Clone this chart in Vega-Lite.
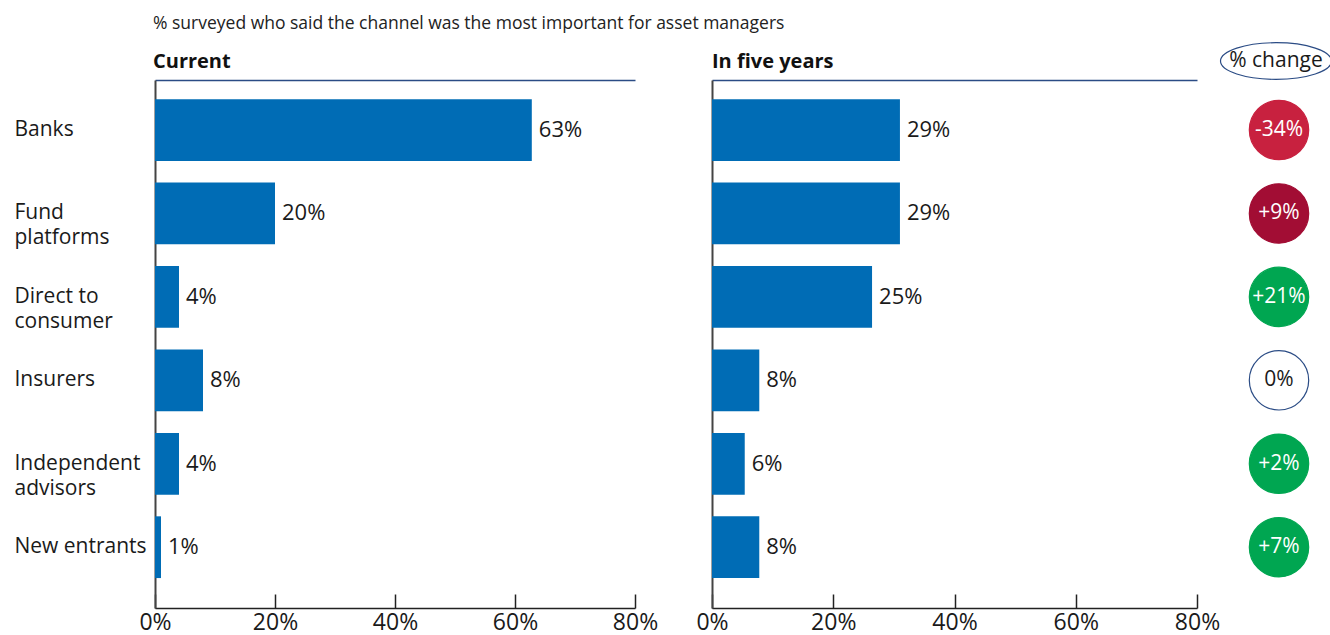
{
  "$schema": "https://vega.github.io/schema/vega-lite/v6.json",
  "background": "white",
  "padding": {"left": 14, "top": 14, "right": 0, "bottom": 0},
  "bounds": "flush",
  "spacing": 77,
  "config": {
    "font": "Open Sans",
    "view": {"stroke": null},
    "axis": {"labelFont": "Open Sans", "labelColor": "#1a1a1a", "grid": false, "title": null},
    "title": {"font": "Open Sans", "subtitleFont": "Open Sans"}
  },
  "datasets": {
    "rows": [
      {"channel": "Banks", "current": 62.8, "currentLabel": "63%", "future": 31.0, "futureLabel": "29%", "changeLabel": "-34%", "change": -34},
      {"channel": "Fund platforms", "current": 20, "currentLabel": "20%", "future": 31.0, "futureLabel": "29%", "changeLabel": "+9%", "change": 9},
      {"channel": "Direct to consumer", "current": 4, "currentLabel": "4%", "future": 26.4, "futureLabel": "25%", "changeLabel": "+21%", "change": 21},
      {"channel": "Insurers", "current": 8, "currentLabel": "8%", "future": 7.8, "futureLabel": "8%", "changeLabel": "0%", "change": 0},
      {"channel": "Independent advisors", "current": 4, "currentLabel": "4%", "future": 5.4, "futureLabel": "6%", "changeLabel": "+2%", "change": 2},
      {"channel": "New entrants", "current": 1, "currentLabel": "1%", "future": 7.8, "futureLabel": "8%", "changeLabel": "+7%", "change": 7}
    ]
  },
  "hconcat": [
    {
      "width": 480,
      "height": 528,
      "data": {"name": "rows"},
      "title": {
        "text": "% surveyed who said the channel was the most important for asset managers",
        "subtitle": "Current",
        "anchor": "start",
        "frame": "group",
        "fontSize": 17.5,
        "fontWeight": "normal",
        "color": "#222222",
        "subtitleFontSize": 20,
        "subtitleFontWeight": "bold",
        "subtitleColor": "#111111",
        "subtitlePadding": 20,
        "offset": 8,
        "dx": -2
      },
      "encoding": {
        "y": {
          "field": "channel",
          "type": "nominal",
          "scale": {
            "type": "band",
            "domain": ["Banks", "Fund platforms", "Direct to consumer", "Insurers", "Independent advisors", "New entrants"],
            "paddingInner": 0.26,
            "paddingOuter": 0.294,
            "align": 0.39
          },
          "axis": {
            "orient": "left",
            "domain": true,
            "domainColor": "#444444",
            "domainWidth": 2,
            "ticks": false,
            "labelAlign": "left",
            "labelBaseline": "middle",
            "labelPadding": 141,
            "labelFontSize": 21,
            "labelLineHeight": 25,
            "labelLimit": 200,
            "labelExpr": "datum.label == 'Fund platforms' ? ['Fund', 'platforms'] : datum.label == 'Direct to consumer' ? ['Direct to', 'consumer'] : datum.label == 'Independent advisors' ? ['Independent', 'advisors'] : datum.label"
          }
        }
      },
      "layer": [
        {
          "mark": {"type": "bar", "color": "#006cb5"},
          "encoding": {
            "x": {
              "field": "current",
              "type": "quantitative",
              "scale": {"domain": [0, 80], "nice": false},
              "axis": {
                "orient": "bottom",
                "values": [0, 20, 40, 60, 80],
                "labelExpr": "datum.value + '%'",
                "labelFontSize": 23,
                "labelFlush": false,
                "labelOverlap": false,
                "tickSize": -14,
                "tickWidth": 1.5,
                "tickColor": "#222222",
                "domainColor": "#222222",
                "domainWidth": 1.5,
                "labelPadding": 17
              }
            }
          }
        },
        {
          "mark": {"type": "text", "align": "left", "baseline": "middle", "dx": 7, "fontSize": 22, "color": "#1a1a1a"},
          "encoding": {
            "x": {
              "field": "current",
              "type": "quantitative",
              "axis": {"orient": "top", "labels": false, "ticks": false, "domain": true, "domainColor": "#2b4c85", "domainWidth": 1.5}
            },
            "text": {"field": "currentLabel"}
          }
        }
      ],
      "resolve": {"axis": {"x": "independent"}}
    },
    {
      "width": 485,
      "height": 528,
      "data": {"name": "rows"},
      "title": {
        "text": " ",
        "subtitle": "In five years",
        "anchor": "start",
        "frame": "group",
        "fontSize": 17.5,
        "fontWeight": "normal",
        "color": "#222222",
        "subtitleFontSize": 20,
        "subtitleFontWeight": "bold",
        "subtitleColor": "#111111",
        "subtitlePadding": 20,
        "offset": 8
      },
      "encoding": {
        "y": {
          "field": "channel",
          "type": "nominal",
          "scale": {
            "type": "band",
            "domain": ["Banks", "Fund platforms", "Direct to consumer", "Insurers", "Independent advisors", "New entrants"],
            "paddingInner": 0.26,
            "paddingOuter": 0.294,
            "align": 0.39
          },
          "axis": {"orient": "left", "domain": true, "domainColor": "#444444", "domainWidth": 2, "ticks": false, "labels": false}
        }
      },
      "layer": [
        {
          "mark": {"type": "bar", "color": "#006cb5"},
          "encoding": {
            "x": {
              "field": "future",
              "type": "quantitative",
              "scale": {"domain": [0, 80], "nice": false},
              "axis": {
                "orient": "bottom",
                "values": [0, 20, 40, 60, 80],
                "labelExpr": "datum.value + '%'",
                "labelFontSize": 23,
                "labelFlush": false,
                "labelOverlap": false,
                "tickSize": -14,
                "tickWidth": 1.5,
                "tickColor": "#222222",
                "domainColor": "#222222",
                "domainWidth": 1.5,
                "labelPadding": 17
              }
            }
          }
        },
        {
          "mark": {"type": "text", "align": "left", "baseline": "middle", "dx": 7, "fontSize": 22, "color": "#1a1a1a"},
          "encoding": {
            "x": {
              "field": "future",
              "type": "quantitative",
              "axis": {"orient": "top", "labels": false, "ticks": false, "domain": true, "domainColor": "#2b4c85", "domainWidth": 1.5}
            },
            "text": {"field": "futureLabel"}
          }
        }
      ],
      "resolve": {"axis": {"x": "independent"}}
    },
    {
      "width": 10,
      "height": 528,
      "encoding": {
        "y": {
          "field": "channel",
          "type": "nominal",
          "scale": {
            "type": "band",
            "domain": ["Banks", "Fund platforms", "Direct to consumer", "Insurers", "Independent advisors", "New entrants"],
            "paddingInner": 0.26,
            "paddingOuter": 0.294,
            "align": 0.39
          },
          "axis": null
        }
      },
      "layer": [
        {
          "data": {"name": "rows"},
          "mark": {"type": "point", "shape": "circle", "filled": true, "size": 3526, "opacity": 1, "strokeWidth": 1.2},
          "encoding": {
            "fill": {
              "field": "channel",
              "type": "nominal",
              "legend": null,
              "scale": {
                "domain": ["Banks", "Fund platforms", "Direct to consumer", "Insurers", "Independent advisors", "New entrants"],
                "range": ["#c8213f", "#a20d34", "#00a651", "#ffffff", "#00a651", "#00a651"]
              }
            },
            "stroke": {
              "field": "channel",
              "type": "nominal",
              "legend": null,
              "scale": {
                "domain": ["Banks", "Fund platforms", "Direct to consumer", "Insurers", "Independent advisors", "New entrants"],
                "range": ["#c8213f", "#a20d34", "#00a651", "#2b4c85", "#00a651", "#00a651"]
              }
            }
          }
        },
        {
          "data": {"name": "rows"},
          "mark": {"type": "text", "align": "center", "baseline": "middle", "fontSize": 21},
          "encoding": {
            "text": {"field": "changeLabel"},
            "color": {"condition": {"test": "datum.change == 0", "value": "#1a1a1a"}, "value": "#ffffff"}
          }
        },
        {
          "data": {"values": [{"header": "% change"}]},
          "mark": {"type": "point", "shape": "M -1 0 A 1 0.33 0 1 1 1 0 A 1 0.33 0 1 1 -1 0 Z", "filled": false, "size": 12321, "stroke": "#2b4c85", "strokeWidth": 1.2, "opacity": 1, "yOffset": -69, "xOffset": -3},
          "encoding": {"y": {"datum": "Banks"}}
        },
        {
          "data": {"values": [{"header": "% change"}]},
          "mark": {"type": "text", "align": "center", "baseline": "middle", "fontSize": 21, "color": "#1a1a1a", "yOffset": -69, "xOffset": -3},
          "encoding": {"y": {"datum": "Banks"}, "text": {"field": "header"}}
        }
      ]
    }
  ]
}
